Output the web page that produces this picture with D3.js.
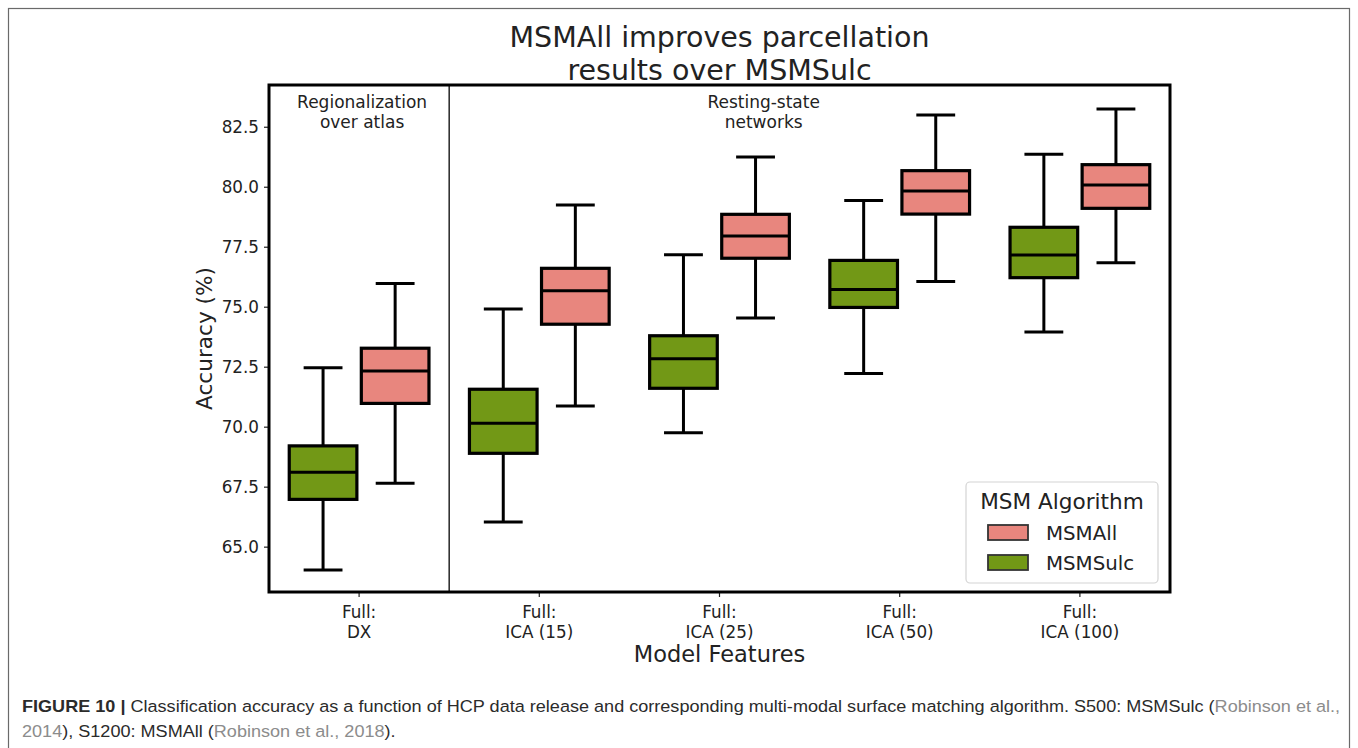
<!DOCTYPE html>
<html>
<head>
<meta charset="utf-8">
<script src="https://cdn.jsdelivr.net/npm/d3@7"></script>
<style>
  html, body { margin: 0; padding: 0; background: #fff; }
  svg { display: block; }
</style>
</head>
<body>
<svg id="chart" width="1358" height="748"></svg>
<script>
// ---- data ----
const categories = ["Full:\nDX", "Full:\nICA (15)", "Full:\nICA (25)", "Full:\nICA (50)", "Full:\nICA (100)"];
const series = ["MSMSulc", "MSMAll"];
const seriesColors = ["#729816", "#e8867e"];
// [lowerWhisker, Q1, median, Q3, upperWhisker]
const msmSulc = [
  [64.03, 66.97, 68.10, 69.20, 72.46],
  [66.03, 68.89, 70.14, 71.56, 74.90],
  [69.75, 71.60, 72.83, 73.79, 77.17],
  [72.22, 74.97, 75.72, 76.93, 79.43],
  [73.95, 76.21, 77.15, 78.31, 81.35]
];
const msmAll = [
  [67.64, 70.97, 72.32, 73.27, 75.97],
  [70.86, 74.27, 75.67, 76.60, 79.24],
  [74.53, 77.02, 77.95, 78.85, 81.24],
  [76.05, 78.86, 79.82, 80.67, 82.99],
  [76.83, 79.10, 80.07, 80.92, 83.24]
];
const yTicks = [65.0, 67.5, 70.0, 72.5, 75.0, 77.5, 80.0, 82.5];
const legendOrder = ["MSMAll", "MSMSulc"];
const titleLines = ["MSMAll improves parcellation", "results over MSMSulc"];
const regionLabels = [["Regionalization", "over atlas"], ["Resting-state", "networks"]];

const svg = d3.select("#chart");
const FONT = "DejaVu Sans, sans-serif";

// outer figure frame
svg.append("rect").attr("x", 8.5).attr("y", 8.5).attr("width", 1341).attr("height", 780)
  .attr("fill", "none").attr("stroke", "#6a6a6a").attr("stroke-width", 1.2);

const plot = {left: 269, right: 1170, top: 85, bottom: 592};

const x = d3.scaleBand().domain(categories).range([plot.left, plot.right]).padding(0);
const y = d3.scaleLinear().domain([63.11, 84.24]).range([plot.bottom, plot.top]);
const hue = d3.scaleBand().domain(series).range([-x.bandwidth() * 0.4, x.bandwidth() * 0.4]);
const color = d3.scaleOrdinal().domain(series).range(seriesColors);

const g = svg.append("g");

// divider between regions (at boundary of first category)
g.append("line")
  .attr("x1", x(categories[1])).attr("x2", x(categories[1]))
  .attr("y1", plot.top).attr("y2", plot.bottom)
  .attr("stroke", "#333").attr("stroke-width", 1.6);

// region labels
const regionX = [x(categories[0]) + x.bandwidth() / 2 + 3, x(categories[2]) + x.bandwidth() * 0.745];
regionLabels.forEach((lines, i) => {
  const t = g.append("text").attr("x", regionX[i]).attr("y", 108)
    .attr("text-anchor", "middle").attr("font-family", FONT).attr("font-size", 17).attr("fill", "#222");
  lines.forEach((l, j) => t.append("tspan").attr("x", regionX[i]).attr("dy", j === 0 ? 0 : 20).text(l));
});

// boxes
const boxW = hue.bandwidth() * 0.98;
const capW = boxW * 0.55;
const dataBySeries = {MSMSulc: msmSulc, MSMAll: msmAll};
series.forEach(s => {
  const arr = dataBySeries[s];
  categories.forEach((c, i) => {
    const d = arr[i];
    const cx = x(c) + x.bandwidth() / 2 + hue(s) + hue.bandwidth() / 2;
    const bg = g.append("g");
    bg.append("line").attr("x1", cx).attr("x2", cx).attr("y1", y(d[0])).attr("y2", y(d[1]))
      .attr("stroke", "#000").attr("stroke-width", 3);
    bg.append("line").attr("x1", cx).attr("x2", cx).attr("y1", y(d[3])).attr("y2", y(d[4]))
      .attr("stroke", "#000").attr("stroke-width", 3);
    [d[0], d[4]].forEach(v => bg.append("line")
      .attr("x1", cx - capW / 2).attr("x2", cx + capW / 2).attr("y1", y(v)).attr("y2", y(v))
      .attr("stroke", "#000").attr("stroke-width", 3));
    bg.append("rect").attr("x", cx - boxW / 2 + 1.5).attr("width", boxW - 3)
      .attr("y", y(d[3])).attr("height", y(d[1]) - y(d[3]))
      .attr("fill", color(s)).attr("stroke", "#000").attr("stroke-width", 3.2);
    bg.append("line").attr("x1", cx - boxW / 2 + 1.5).attr("x2", cx + boxW / 2 - 1.5)
      .attr("y1", y(d[2])).attr("y2", y(d[2]))
      .attr("stroke", "#000").attr("stroke-width", 3);
  });
});

// axes
const yAxis = d3.axisLeft(y).tickValues(yTicks).tickFormat(d3.format(".1f")).tickSize(5).tickPadding(5);
const ya = svg.append("g").attr("transform", `translate(${plot.left},0)`).call(yAxis);
ya.select(".domain").remove();
ya.selectAll(".tick line").attr("stroke", "#222").attr("stroke-width", 1.2);
ya.selectAll(".tick text").attr("font-family", FONT).attr("font-size", 16.8).attr("fill", "#222");

const xAxis = d3.axisBottom(x).tickSize(5).tickPadding(6).tickFormat("");
const xa = svg.append("g").attr("transform", `translate(0,${plot.bottom})`).call(xAxis);
xa.select(".domain").remove();
xa.selectAll(".tick line").attr("stroke", "#222").attr("stroke-width", 1.2);
xa.selectAll(".tick").each(function(d) {
  const lines = d.split("\n");
  const t = d3.select(this).append("text").attr("y", 26).attr("text-anchor", "middle")
    .attr("font-family", FONT).attr("font-size", 16.8).attr("fill", "#222");
  lines.forEach((l, j) => t.append("tspan").attr("x", 0).attr("dy", j === 0 ? 0 : 20).text(l));
});

// frame
svg.append("rect").attr("x", plot.left).attr("y", plot.top)
  .attr("width", plot.right - plot.left).attr("height", plot.bottom - plot.top)
  .attr("fill", "none").attr("stroke", "#000").attr("stroke-width", 3);

// axis titles
svg.append("text").attr("transform", `translate(212,${(plot.top + plot.bottom) / 2}) rotate(-90)`)
  .attr("text-anchor", "middle").attr("font-family", FONT).attr("font-size", 21.6).attr("fill", "#222")
  .text("Accuracy (%)");
svg.append("text").attr("x", (plot.left + plot.right) / 2).attr("y", 662)
  .attr("text-anchor", "middle").attr("font-family", FONT).attr("font-size", 22.5).attr("fill", "#222")
  .text("Model Features");

// title
const tt = svg.append("text").attr("x", (plot.left + plot.right) / 2).attr("y", 47)
  .attr("text-anchor", "middle").attr("font-family", FONT).attr("font-size", 28.5).attr("fill", "#222");
titleLines.forEach((l, j) => tt.append("tspan").attr("x", (plot.left + plot.right) / 2).attr("dy", j === 0 ? 0 : 33).text(l));

// legend
const lg = svg.append("g");
lg.append("rect").attr("x", 966).attr("y", 482).attr("width", 192).attr("height", 101).attr("rx", 4)
  .attr("fill", "#fff").attr("stroke", "#d4d4d4").attr("stroke-width", 1.2);
lg.append("text").attr("x", 1062).attr("y", 509).attr("text-anchor", "middle")
  .attr("font-family", FONT).attr("font-size", 21.6).attr("fill", "#222").text("MSM Algorithm");
legendOrder.forEach((s, i) => {
  const yy = 525 + i * 30;
  lg.append("rect").attr("x", 988).attr("y", yy).attr("width", 40).attr("height", 15)
    .attr("fill", color(s)).attr("stroke", "#333").attr("stroke-width", 1.8);
  lg.append("text").attr("x", 1046).attr("y", yy + 14.5).attr("font-family", FONT).attr("font-size", 19.8)
    .attr("fill", "#222").text(s);
});

// caption
const CF = "Liberation Sans, Arial, sans-serif";
const cap1 = svg.append("text").attr("x", 22).attr("y", 712).attr("font-family", CF).attr("font-size", 15.5).attr("fill", "#2b2b2b");
cap1.append("tspan").attr("font-weight", "bold").text("FIGURE 10 | ");
cap1.append("tspan").text("Classification accuracy as a function of HCP data release and corresponding multi-modal surface matching algorithm. S500: MSMSulc (");
cap1.append("tspan").attr("fill", "#8c8c8c").text("Robinson et al.,");
const cap2 = svg.append("text").attr("x", 22).attr("y", 737).attr("font-family", CF).attr("font-size", 15.5).attr("fill", "#2b2b2b");
cap2.append("tspan").attr("fill", "#8c8c8c").text("2014");
cap2.append("tspan").text("), S1200: MSMAll (");
cap2.append("tspan").attr("fill", "#8c8c8c").text("Robinson et al., 2018");
cap2.append("tspan").text(").");
// fit caption line 1 to the reference width by compressing horizontally
const targetW = 1318;
const w1 = cap1.node().getComputedTextLength();
const sx = targetW / w1;
[cap1, cap2].forEach(c => {
  c.attr("x", 0).attr("transform", `translate(22,0) scale(${sx},1)`);
  c.attr("font-size", 16.5);
});
const w1b = cap1.node().getComputedTextLength();
const sx2 = targetW / w1b;
[cap1, cap2].forEach(c => c.attr("transform", `translate(22,0) scale(${sx2},1)`));
</script>
</body>
</html>
